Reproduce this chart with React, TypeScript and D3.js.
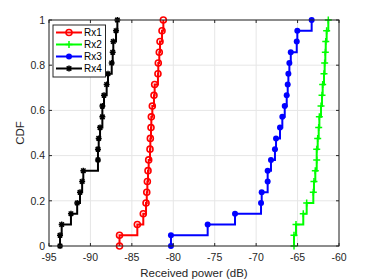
import React from "react";
import * as d3 from "d3";

// sorted received power samples (dB)
const rx1 = [-86.49, -84.34, -83.62, -83.29, -83.2, -83.13, -83.05, -82.97, -82.81, -82.77, -82.69,
  -82.65, -82.53, -82.33, -82.25, -81.85, -81.81, -81.69, -81.6, -81.36, -81.2];
const rx2 = [-65.43, -65.19, -64.31, -63.9, -63.1, -63.02, -62.86, -62.69, -62.69, -62.57, -62.45,
  -62.37, -62.17, -62.05, -61.97, -61.81, -61.73, -61.65, -61.6, -61.49, -61.29];
const rx3 = [-80.28, -75.85, -72.55, -69.41, -69.33, -68.61, -68.61, -68.21, -67.73, -67.6, -67.12,
  -66.84, -66.55, -66.31, -66.19, -66.11, -65.99, -65.82, -65.1, -65.03, -63.3];
const rx4 = [-93.67, -93.47, -92.35, -91.6, -91.26, -91.0, -90.86, -89.09, -89.09, -89.0, -88.84,
  -88.56, -88.56, -88.36, -88.04, -87.88, -87.43, -87.31, -87.24, -86.91, -86.75];

const seriesNames = ["Rx1", "Rx2", "Rx3", "Rx4"];
const seriesColors = ["#ff0000", "#00ff00", "#0000ff", "#000000"];
const seriesMarkers = ["circle", "plus", "dot", "star"];
const xTicks = [-95, -90, -85, -80, -75, -70, -65, -60];
const yTicks = [0, 0.2, 0.4, 0.6, 0.8, 1];

const W = 374;
const H = 280;
const m = { left: 49, right: 35, top: 20, bottom: 34 };

const x = d3.scaleLinear().domain([-95, -60]).range([m.left, W - m.right]);
const y = d3.scaleLinear().domain([0, 1]).range([H - m.bottom, m.top]);

const ecdf = (vals: number[]) => {
  const s = [...vals].sort((a, b) => a - b);
  const n = s.length;
  const pts: [number, number][] = [[s[0], 0]];
  s.forEach((v, i) => pts.push([v, (i + 1) / n]));
  return pts;
};

const Marker = ({ kind, cx, cy, color }: { kind: string; cx: number; cy: number; color: string }) => {
  if (kind === "circle")
    return <circle cx={cx} cy={cy} r={3} fill="none" stroke={color} strokeWidth={1.6} />;
  if (kind === "dot") return <circle cx={cx} cy={cy} r={3} fill={color} />;
  if (kind === "plus")
    return (
      <path d={`M${cx - 3.5},${cy}H${cx + 3.5}M${cx},${cy - 3.5}V${cy + 3.5}`} stroke={color} strokeWidth={1.5} />
    );
  const r = 3;
  return (
    <path
      d={`M${cx - r},${cy}H${cx + r}M${cx},${cy - r}V${cy + r}M${cx - r * 0.75},${cy - r * 0.75}L${cx + r * 0.75},${cy + r * 0.75}M${cx - r * 0.75},${cy + r * 0.75}L${cx + r * 0.75},${cy - r * 0.75}`}
      stroke={color}
      strokeWidth={1.5}
    />
  );
};

export default function App() {
  const data = [rx1, rx2, rx3, rx4].map(ecdf);
  const line = d3
    .line<[number, number]>()
    .x((d) => x(d[0]))
    .y((d) => y(d[1]))
    .curve(d3.curveStepAfter);
  const x0 = m.left, x1 = W - m.right, y0 = H - m.bottom, y1 = m.top;
  const axisColor = "#262626";
  const font = "'Liberation Sans', Arial, sans-serif";

  return (
    <svg width={W} height={H} style={{ position: "absolute", left: 0, top: 0, background: "#fff" }} fontFamily={font}>
      {/* grid */}
      {xTicks.map((t) => (
        <line key={"gx" + t} x1={x(t)} x2={x(t)} y1={y0} y2={y1} stroke="#e6e6e6" strokeWidth={1} />
      ))}
      {yTicks.map((t) => (
        <line key={"gy" + t} x1={x0} x2={x1} y1={y(t)} y2={y(t)} stroke="#e6e6e6" strokeWidth={1} />
      ))}
      {/* series */}
      {data.map((pts, i) => (
        <g key={seriesNames[i]}>
          <path d={line(pts) || ""} fill="none" stroke={seriesColors[i]} strokeWidth={2} />
          {pts.map((p, j) => (
            <Marker key={j} kind={seriesMarkers[i]} cx={x(p[0])} cy={y(p[1])} color={seriesColors[i]} />
          ))}
        </g>
      ))}
      {/* box and ticks */}
      <rect x={x0} y={y1} width={x1 - x0} height={y0 - y1} fill="none" stroke={axisColor} strokeWidth={1} />
      {xTicks.map((t) => (
        <g key={"tx" + t}>
          <line x1={x(t)} x2={x(t)} y1={y0} y2={y0 - 3} stroke={axisColor} />
          <line x1={x(t)} x2={x(t)} y1={y1} y2={y1 + 3} stroke={axisColor} />
          <text x={x(t)} y={y0 + 15} textAnchor="middle" fontSize={10.5} fill={axisColor}>
            {t}
          </text>
        </g>
      ))}
      {yTicks.map((t) => (
        <g key={"ty" + t}>
          <line x1={x0} x2={x0 + 3} y1={y(t)} y2={y(t)} stroke={axisColor} />
          <line x1={x1} x2={x1 - 3} y1={y(t)} y2={y(t)} stroke={axisColor} />
          <text x={x0 - 4} y={y(t) + 3.7} textAnchor="end" fontSize={10.5} fill={axisColor}>
            {t}
          </text>
        </g>
      ))}
      <text x={(x0 + x1) / 2} y={H - 3} textAnchor="middle" fontSize={11.5} fill={axisColor}>
        Received power (dB)
      </text>
      <text transform={`translate(${24},${(y0 + y1) / 2}) rotate(-90)`} textAnchor="middle" fontSize={11.5} fill={axisColor}>
        CDF
      </text>
      {/* legend */}
      <rect x={53} y={25} width={52.5} height={52} fill="#fff" stroke={axisColor} strokeWidth={1} />
      {seriesNames.map((n, i) => {
        const ly = 32.5 + i * 12;
        return (
          <g key={"lg" + n}>
            <line x1={56} x2={82} y1={ly} y2={ly} stroke={seriesColors[i]} strokeWidth={2} />
            <Marker kind={seriesMarkers[i]} cx={69} cy={ly} color={seriesColors[i]} />
            <text x={84} y={ly + 3.5} fontSize={10} fill="#000">
              {n}
            </text>
          </g>
        );
      })}
    </svg>
  );
}
